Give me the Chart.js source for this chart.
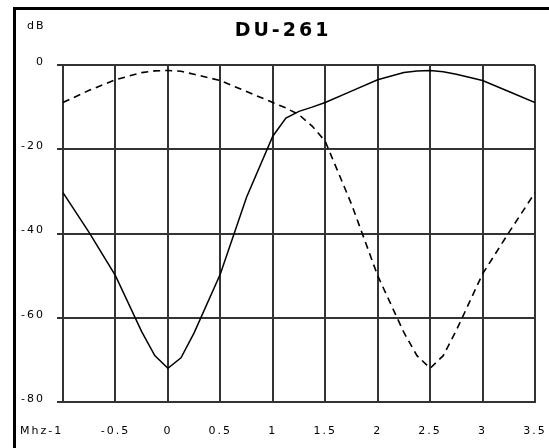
<!DOCTYPE html>
<html lang="en">
<head>
    <meta charset="UTF-8">
    <title>DU-261</title>
    <style>
        * {
            margin: 0;
            padding: 0;
            box-sizing: border-box;
        }
        body {
            background-color: #fff;
            width: 549px;
            height: 448px;
            overflow: hidden;
        }
        .wrap {
            position: relative;
            width: 549px;
            height: 448px;
        }
        #chart {
            display: block;
        }
        .frame {
            position: absolute;
            left: 13px;
            top: 7px;
            width: 540px;
            height: 445px;
            border-top: 3px solid #000;
            border-left: 3px solid #000;
            pointer-events: none;
        }
    </style>
</head>
<body>
    <div class="wrap">
        <canvas id="chart" width="549" height="448"></canvas>
        <div class="frame"></div>
    </div>

    <script src="https://cdn.jsdelivr.net/npm/chart.js"></script>
    <script>
        const chartTitle = 'DU-261';
        const yTitle = 'dB';
        const xFirstLabel = 'Mhz-1';

        // frequency offsets (MHz)
        const xValues = [-1, -0.75, -0.5, -0.25, -0.125, 0, 0.125, 0.25, 0.5, 0.75, 1, 1.125, 1.25, 1.375, 1.5, 1.75, 2, 2.25, 2.375, 2.5, 2.625, 2.75, 3, 3.25, 3.5];
        // solid curve (dB)
        const solidValues = [-30.3, -39.8, -50, -63.3, -69, -72, -69.5, -63.6, -49.6, -31.4, -16.9, -12.6, -11, -10, -8.9, -6.2, -3.5, -1.8, -1.4, -1.3, -1.6, -2.2, -3.7, -6.3, -8.9];
        // dashed curve (dB)
        const dashedValues = [-8.9, -6, -3.5, -1.8, -1.4, -1.3, -1.5, -2.2, -3.7, -6.3, -8.9, -10.2, -11.8, -14.5, -18.1, -33, -50, -63.5, -69, -72, -69, -63, -49.6, -39.8, -30.3];

        const gridColor = '#333';
        const labelFont = { family: 'DejaVu Sans', size: 11 };

        // letter spacing + the extra texts (title, dB, Mhz-1)
        const textPlugin = {
            id: 'texts',
            beforeDraw(chart) {
                chart.ctx.letterSpacing = '2px';
            },
            afterDraw(chart) {
                const ctx = chart.ctx;
                ctx.save();
                ctx.fillStyle = '#000';
                ctx.textBaseline = 'middle';
                ctx.textAlign = 'left';
                ctx.letterSpacing = '2px';
                ctx.font = '11px "DejaVu Sans"';
                ctx.fillText(yTitle, 27, 26);
                ctx.fillText(xFirstLabel, 20, 431);

                ctx.letterSpacing = '3px';
                ctx.font = 'bold 19px "DejaVu Sans"';
                ctx.textAlign = 'center';
                ctx.fillText(chartTitle, 283, 31);
                ctx.restore();
                ctx.letterSpacing = '0px';
            }
        };

        const ctx = document.getElementById('chart').getContext('2d');
        const chart = new Chart(ctx, {
            type: 'line',
            data: {
                datasets: [{
                    label: 'solid',
                    data: xValues.map((x, i) => ({ x: x, y: solidValues[i] })),
                    borderColor: '#000',
                    borderWidth: 1.5,
                    pointRadius: 0,
                    tension: 0,
                    fill: false
                }, {
                    label: 'dashed',
                    data: xValues.map((x, i) => ({ x: x, y: dashedValues[i] })),
                    borderColor: '#000',
                    borderWidth: 1.6,
                    borderDash: [7, 5],
                    pointRadius: 0,
                    tension: 0,
                    fill: false
                }]
            },
            options: {
                responsive: false,
                animation: false,
                devicePixelRatio: 1,
                layout: {
                    padding: { left: 0, right: 14, top: 65, bottom: 0 }
                },
                plugins: {
                    legend: { display: false },
                    title: { display: false },
                    tooltip: { enabled: false }
                },
                scales: {
                    x: {
                        type: 'linear',
                        min: -1,
                        max: 3.5,
                        afterFit: s => {
                            s.height = 46;
                            s.paddingLeft = 0;
                            s.paddingRight = 0;
                        },
                        ticks: {
                            stepSize: 0.5,
                            color: '#000',
                            font: labelFont,
                            padding: 23,
                            maxRotation: 0,
                            autoSkip: false,
                            callback: v => (v === -1 ? '' : String(v))
                        },
                        grid: {
                            color: gridColor,
                            lineWidth: 2,
                            drawTicks: false
                        },
                        border: { color: gridColor, width: 2 }
                    },
                    y: {
                        min: -80,
                        max: 0,
                        afterFit: s => {
                            s.width = 63;
                            s.paddingTop = 0;
                            s.paddingBottom = 0;
                        },
                        ticks: {
                            stepSize: 20,
                            color: '#000',
                            font: labelFont,
                            padding: 12,
                            labelOffset: -3
                        },
                        grid: {
                            color: gridColor,
                            lineWidth: 2,
                            tickLength: 6
                        },
                        border: { color: gridColor, width: 2 }
                    }
                }
            },
            plugins: [textPlugin]
        });
    </script>
</body>
</html>
